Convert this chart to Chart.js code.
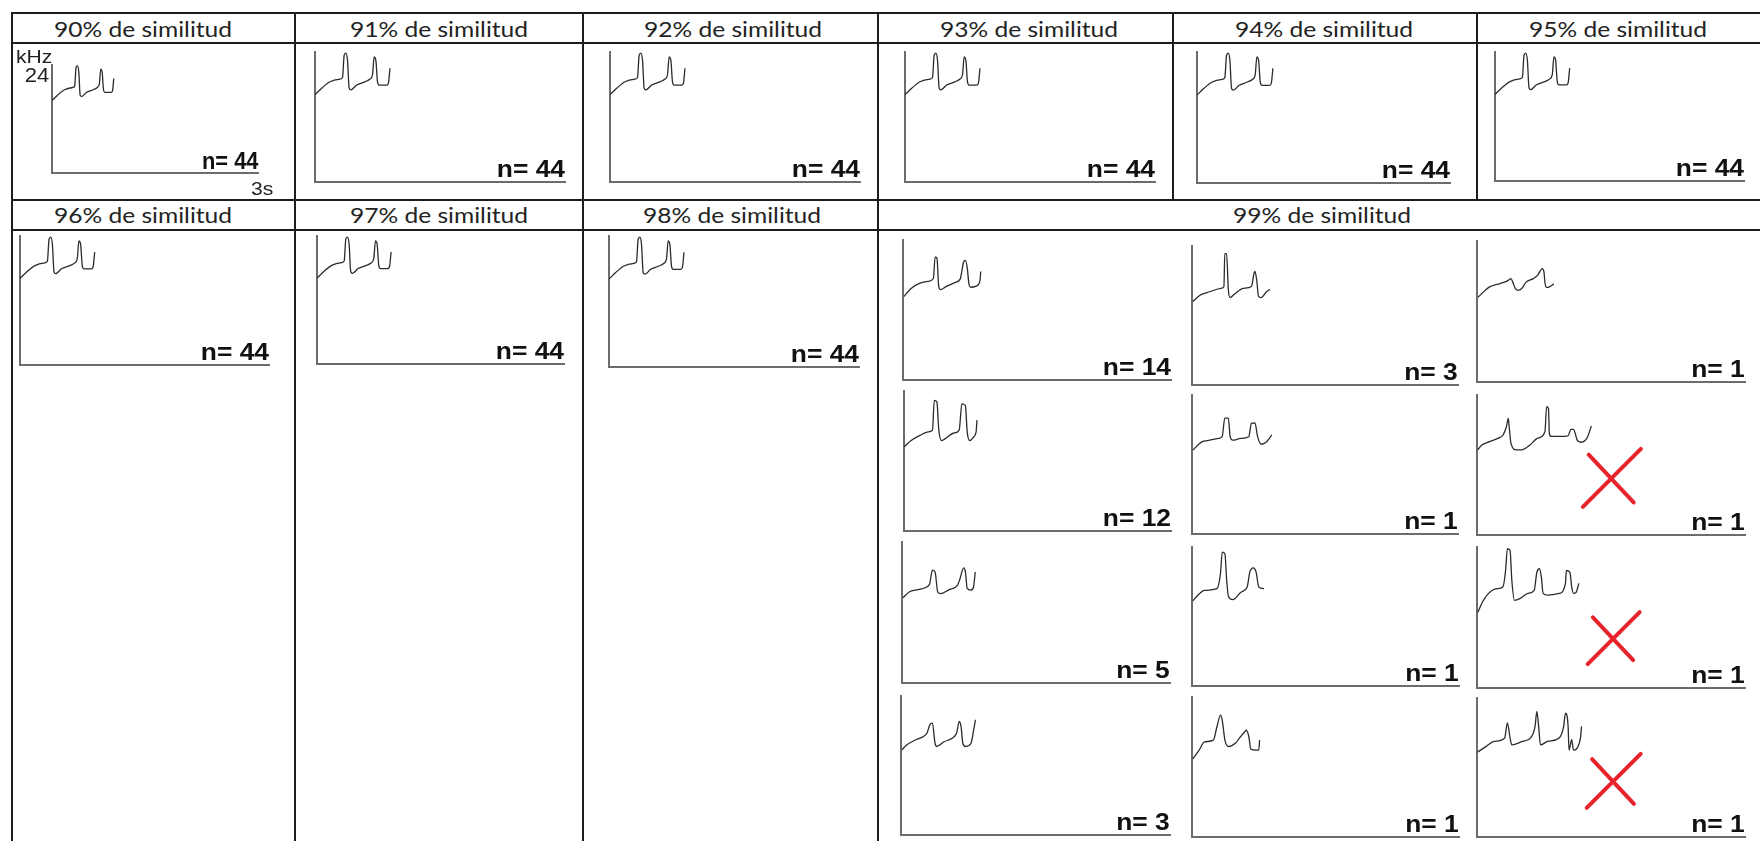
<!DOCTYPE html>
<html>
<head>
<meta charset="utf-8">
<script src="https://cdn.jsdelivr.net/npm/chart.js@4.4.1/dist/chart.umd.min.js"></script>
<style>
    html, body { margin: 0; padding: 0; background: #fff; }
    body { position: relative; width: 1760px; height: 841px; overflow: hidden; }
    .rule { position: absolute; background: #1e1e1e; }
    .head {
        position: absolute; font-family: Lato, sans-serif; font-size: 21px; line-height: 21px;
        color: #232323; white-space: nowrap; transform: translateX(-50%) scaleX(1.17);
    }
    .count {
        position: absolute; font-family: "Liberation Sans", Arial, sans-serif; font-weight: bold;
        font-size: 24px; line-height: 24px; color: #111; white-space: nowrap;
        transform-origin: 100% 50%; transform: scaleX(1.1);
    }
    .unit { position: absolute; font-family: "Liberation Sans", Arial, sans-serif; color: #222; white-space: nowrap; line-height: 1; }
    .panel { position: absolute; }
</style>
</head>
<body>
<script>
// --- data ---
const similarityLabels = ['90% de similitud', '91% de similitud', '92% de similitud', '93% de similitud',
    '94% de similitud', '95% de similitud', '96% de similitud', '97% de similitud', '98% de similitud', '99% de similitud'];
const panelCounts = [44, 44, 44, 44, 44, 44, 44, 44, 44];

// mean contour (s, kHz) shared by the 90-98% groups
const meanTimes = [0, 0.08, 0.18, 0.30, 0.33, 0.35, 0.37, 0.39, 0.41, 0.43, 0.50, 0.60, 0.66, 0.69, 0.71, 0.73, 0.75, 0.77, 0.86, 0.88, 0.90];
const meanFreqs = [16.1, 17.3, 18.5, 19.0, 19.3, 23.4, 23.8, 22.5, 17.3, 17.0, 17.9, 18.5, 19.0, 19.8, 23.1, 22.5, 18.5, 17.9, 17.9, 18.2, 21.0];

// 99% clusters, column by column
const clusterCounts = [14, 12, 5, 3, 3, 1, 1, 1, 1, 1, 1, 1];
const clusterRejected = [false, false, false, false, false, false, false, false, false, true, true, true];

const cluster1Times = [0.01, 0.09, 0.19, 0.28, 0.34, 0.36, 0.38, 0.40, 0.42, 0.48, 0.58, 0.64, 0.68, 0.70, 0.72, 0.74, 0.76, 0.82, 0.86, 0.87];
const cluster1Freqs = [14.3, 15.7, 16.6, 16.9, 17.4, 21.1, 20.9, 16.0, 15.5, 16.0, 16.7, 17.3, 20.3, 20.5, 19.1, 16.3, 15.9, 16.1, 16.9, 18.6];
const cluster2Times = [0, 0.08, 0.18, 0.27, 0.32, 0.34, 0.37, 0.39, 0.42, 0.46, 0.56, 0.62, 0.65, 0.69, 0.71, 0.74, 0.78, 0.81, 0.82];
const cluster2Freqs = [14.4, 15.5, 16.4, 17.0, 17.3, 22.4, 22.1, 17.5, 15.5, 15.8, 16.8, 17.3, 21.8, 21.5, 17.0, 15.5, 16.1, 17.0, 19.0];
const cluster3Times = [0.01, 0.08, 0.18, 0.27, 0.31, 0.34, 0.37, 0.40, 0.43, 0.53, 0.62, 0.65, 0.69, 0.71, 0.73, 0.77, 0.80, 0.82];
const cluster3Freqs = [14.5, 15.5, 15.9, 16.3, 16.9, 19.2, 18.9, 15.5, 15.2, 15.9, 16.6, 17.8, 19.6, 18.9, 16.1, 15.8, 16.3, 18.9];
const cluster4Times = [0.01, 0.06, 0.16, 0.25, 0.29, 0.32, 0.35, 0.38, 0.40, 0.48, 0.57, 0.62, 0.65, 0.67, 0.69, 0.72, 0.78, 0.81, 0.83];
const cluster4Freqs = [14.7, 15.5, 16.4, 17.0, 17.6, 19.0, 19.3, 15.8, 15.3, 16.1, 16.7, 17.6, 19.6, 18.7, 15.8, 15.3, 15.8, 18.1, 19.9];
const cluster5Times = [0.01, 0.09, 0.20, 0.33, 0.36, 0.37, 0.39, 0.41, 0.43, 0.48, 0.58, 0.67, 0.70, 0.71, 0.73, 0.75, 0.78, 0.84, 0.88];
const cluster5Freqs = [14.4, 15.5, 16.1, 16.7, 17.0, 22.7, 22.7, 16.4, 15.1, 15.7, 16.7, 17.0, 19.3, 19.6, 18.1, 15.3, 15.1, 16.1, 16.5];
const cluster6Times = [0.01, 0.11, 0.20, 0.30, 0.34, 0.37, 0.41, 0.43, 0.46, 0.55, 0.64, 0.67, 0.71, 0.74, 0.78, 0.84, 0.90];
const cluster6Freqs = [14.5, 15.9, 16.2, 16.5, 16.8, 20.0, 20.0, 16.8, 16.2, 16.5, 16.8, 19.1, 19.2, 16.8, 15.5, 15.9, 17.1];
const cluster7Times = [0.01, 0.08, 0.14, 0.28, 0.32, 0.34, 0.37, 0.39, 0.41, 0.46, 0.55, 0.62, 0.65, 0.69, 0.72, 0.75, 0.81];
const cluster7Freqs = [14.7, 15.9, 16.5, 16.8, 19.4, 23.1, 22.8, 18.2, 15.4, 14.9, 16.2, 17.1, 19.7, 20.4, 19.7, 17.1, 16.8];
const cluster8Times = [0.01, 0.08, 0.14, 0.24, 0.28, 0.32, 0.34, 0.37, 0.41, 0.49, 0.53, 0.59, 0.61, 0.64, 0.66, 0.71, 0.75, 0.76];
const cluster8Freqs = [13.4, 14.9, 16.3, 16.6, 18.9, 20.9, 20.0, 16.6, 15.5, 16.1, 16.9, 18.0, 18.3, 17.1, 15.1, 14.9, 14.9, 16.6];
const cluster9Times = [0.01, 0.07, 0.14, 0.22, 0.29, 0.35, 0.38, 0.40, 0.43, 0.46, 0.50, 0.55, 0.63, 0.68, 0.73, 0.75, 0.76, 0.78, 0.81, 0.86];
const cluster9Freqs = [14.4, 15.3, 16.2, 16.6, 16.9, 17.3, 17.6, 17.0, 15.9, 15.6, 15.9, 17.0, 17.6, 18.2, 19.3, 18.7, 17.0, 16.1, 16.2, 16.7];
const cluster10Times = [0.01, 0.05, 0.14, 0.24, 0.29, 0.33, 0.35, 0.36, 0.38, 0.44, 0.50, 0.59, 0.68, 0.76, 0.78, 0.80, 0.81, 0.83, 0.93, 1.02, 1.05, 1.08, 1.10, 1.12, 1.16, 1.21, 1.24, 1.28];
const cluster10Freqs = [14.6, 15.4, 16.0, 16.6, 17.1, 18.6, 20.0, 18.6, 15.7, 14.6, 14.6, 15.4, 16.6, 17.7, 22.0, 21.7, 17.4, 16.9, 16.9, 17.0, 18.1, 18.1, 17.4, 16.3, 15.9, 16.2, 16.9, 18.7];
const cluster11Times = [0.01, 0.06, 0.13, 0.22, 0.29, 0.32, 0.34, 0.37, 0.39, 0.42, 0.48, 0.57, 0.64, 0.67, 0.70, 0.72, 0.74, 0.79, 0.92, 0.99, 1.00, 1.04, 1.06, 1.08, 1.11, 1.14];
const cluster11Freqs = [12.9, 14.6, 16.1, 16.9, 17.2, 20.0, 23.7, 23.4, 18.3, 14.9, 15.2, 16.1, 16.6, 19.7, 20.3, 18.9, 16.1, 15.8, 16.1, 17.8, 20.0, 19.7, 17.2, 16.1, 16.3, 17.8];
const cluster12Times = [0.01, 0.10, 0.19, 0.31, 0.34, 0.37, 0.39, 0.51, 0.60, 0.65, 0.67, 0.69, 0.71, 0.79, 0.92, 0.97, 0.99, 1.02, 1.03, 1.06, 1.08, 1.13, 1.16, 1.17];
const cluster12Freqs = [14.7, 15.6, 16.5, 17.1, 19.7, 17.1, 15.9, 16.5, 17.1, 19.1, 21.7, 19.1, 15.9, 16.5, 17.1, 19.1, 21.4, 19.1, 15.0, 16.8, 15.0, 15.6, 17.3, 19.1];

const clusterTimes = [cluster1Times, cluster2Times, cluster3Times, cluster4Times, cluster5Times, cluster6Times,
    cluster7Times, cluster8Times, cluster9Times, cluster10Times, cluster11Times, cluster12Times];
const clusterFreqs = [cluster1Freqs, cluster2Freqs, cluster3Freqs, cluster4Freqs, cluster5Freqs, cluster6Freqs,
    cluster7Freqs, cluster8Freqs, cluster9Freqs, cluster10Freqs, cluster11Freqs, cluster12Freqs];

// --- layout ---
const hRules = [[12, 1770, 13], [12, 1770, 43], [12, 1770, 200], [12, 1770, 230]];
const vRules = [[12, 13, 850], [295, 13, 850], [583, 13, 850], [878, 13, 850], [1173, 13, 200], [1477, 13, 200]];
const headPos = [[143, 29], [439, 29], [733, 29], [1029, 29], [1324, 29], [1618, 29], [143, 215], [439, 215], [732, 215], [1322, 215]];
// [left, top, right, bottom] of each axis box
const groupBoxes = [[52, 65, 258, 173], [315, 52, 565, 182], [610, 52, 860, 182], [905, 52, 1155, 182],
    [1197, 52, 1450, 183], [1495, 52, 1744, 181], [20, 236, 269, 365], [317, 236, 564, 364], [609, 236, 859, 367]];
const clusterBoxes = [
    [903, 240, 1171, 380], [904, 391, 1171, 531], [902, 542, 1170, 683], [901, 696, 1170, 835],
    [1192, 246, 1458, 385], [1192, 395, 1458, 534], [1192, 547, 1459, 686], [1192, 697, 1459, 837],
    [1477, 241, 1745, 382], [1477, 395, 1745, 535], [1477, 547, 1745, 688], [1477, 698, 1745, 837]
];
const crossSpots = [null, null, null, null, null, null, null, null, null,
    { t: 1.51, f: 9.8, size: 29 }, { t: 1.53, f: 8.5, size: 26 }, { t: 1.53, f: 9.7, size: 27 }];

const crossMark = {
    id: 'crossMark',
    afterDatasetsDraw(chart, args, opts) {
        const { ctx, scales: { x, y } } = chart;
        const cx = x.getPixelForValue(opts.t);
        const cy = y.getPixelForValue(opts.f);
        const r = opts.size;
        ctx.save();
        ctx.strokeStyle = '#e8232b';
        ctx.lineWidth = 4;
        ctx.lineCap = 'round';
        ctx.beginPath();
        ctx.moveTo(cx - r, cy + r);
        ctx.lineTo(cx + r, cy - r);
        ctx.moveTo(cx - r * 0.8, cy - r * 0.8);
        ctx.lineTo(cx + r * 0.75, cy + r * 0.85);
        ctx.stroke();
        ctx.restore();
    }
};

function addDiv(cls, text, style) {
    const el = document.createElement('div');
    el.className = cls;
    if (text) el.textContent = text;
    Object.assign(el.style, style);
    document.body.appendChild(el);
    return el;
}

function addPanel(box, times, freqs, count, cross, small) {
    const [x1, y1, x2, y2] = box;
    const pad = 4;
    const canvas = document.createElement('canvas');
    canvas.className = 'panel';
    canvas.width = x2 - x1 + pad * 2;
    canvas.height = y2 - y1 + pad * 2;
    canvas.style.left = (x1 - pad) + 'px';
    canvas.style.top = (y1 - pad) + 'px';
    document.body.appendChild(canvas);

    const axis = {
        grid: { display: false, drawTicks: false },
        ticks: { display: false },
        border: { color: '#6c6c6c', width: 2 }
    };
    new Chart(canvas, {
        type: 'line',
        data: {
            datasets: [{
                data: times.map((t, i) => ({ x: t, y: freqs[i] })),
                borderColor: '#2b2b2b',
                borderWidth: 1.3,
                pointRadius: 0,
                cubicInterpolationMode: 'monotone'
            }]
        },
        options: {
            responsive: false,
            animation: false,
            devicePixelRatio: 1,
            layout: { padding: pad },
            plugins: { legend: { display: false }, tooltip: { enabled: false }, crossMark: cross || {} },
            scales: {
                x: { type: 'linear', min: 0, max: 3, ...axis },
                y: { type: 'linear', min: 0, max: 24, ...axis }
            }
        },
        plugins: cross ? [crossMark] : []
    });

    const label = { right: (1760 - x2) + 'px', top: (y2 - 25) + 'px' };
    if (small) Object.assign(label, { fontSize: '23px', top: (y2 - 24) + 'px', transform: 'scaleX(0.95)' });
    addDiv('count', 'n= ' + count, label);
}

hRules.forEach(([a, b, y]) => addDiv('rule', '', { left: (a - 1) + 'px', top: (y - 1) + 'px', width: (b - a + 2) + 'px', height: '2px' }));
vRules.forEach(([x, a, b]) => addDiv('rule', '', { left: (x - 1) + 'px', top: (a - 1) + 'px', width: '2px', height: (b - a + 2) + 'px' }));

similarityLabels.forEach((label, i) => {
    const [cx, cy] = headPos[i];
    addDiv('head', label, { left: cx + 'px', top: (cy - 11) + 'px' });
});

groupBoxes.forEach((box, i) => addPanel(box, meanTimes, meanFreqs, panelCounts[i], null, i === 0));
clusterBoxes.forEach((box, i) => addPanel(box, clusterTimes[i], clusterFreqs[i], clusterCounts[i], clusterRejected[i] ? crossSpots[i] : null, false));

// axis units on the first panel only
addDiv('unit', 'kHz', { left: '16px', top: '48px', fontSize: '18px', transformOrigin: '0 0', transform: 'scaleX(1.17)' });
addDiv('unit', '24', { right: (1760 - 49) + 'px', top: '65px', fontSize: '20px', transformOrigin: '100% 0', transform: 'scaleX(1.1)' });
addDiv('unit', '3s', { left: '251px', top: '180px', fontSize: '18px', transformOrigin: '0 0', transform: 'scaleX(1.17)' });
</script>
</body>
</html>
